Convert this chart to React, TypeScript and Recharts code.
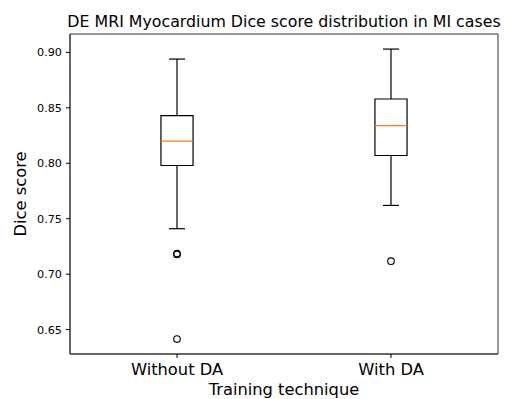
import React from 'react';
import {
  ComposedChart,
  XAxis,
  YAxis,
  Scatter,
  ReferenceArea,
  ReferenceLine,
  Label,
} from 'recharts';

// values
const groups = ['Without DA', 'With DA'];
const positions = [1, 2];
const whiskerLow = [0.741, 0.762];
const q1 = [0.798, 0.807];
const median = [0.82, 0.834];
const q3 = [0.843, 0.858];
const whiskerHigh = [0.894, 0.903];
const outliersWithoutDA = [0.7186, 0.7178, 0.6415];
const outliersWithDA = [0.7117];
const yTicks = [0.65, 0.7, 0.75, 0.8, 0.85, 0.9];

const X_DOMAIN: [number, number] = [0.5, 2.5];
const Y_DOMAIN: [number, number] = [0.628, 0.9166];
const BOX_HALF = 0.075;
const CAP_HALF = 0.0375;

const FONT = '"DejaVu Sans", sans-serif';

if (typeof document !== 'undefined') {
  document.body.style.margin = '0';
}

const outlierData = [
  ...outliersWithoutDA.map(y => ({ x: positions[0], y })),
  ...outliersWithDA.map(y => ({ x: positions[1], y })),
];

const OutlierDot = (props: any) => {
  const { cx, cy } = props;
  if (cx == null || cy == null) return null;
  return <circle cx={cx} cy={cy} r={3.3} fill="none" stroke="#000" strokeWidth={1.1} />;
};

const App: React.FC = () => {
  return (
    <div style={{ position: 'relative', width: 515, height: 399, background: '#fff', fontFamily: FONT }}>
      <svg width={515} height={30} style={{ position: 'absolute', left: 0, top: 0 }}>
        <text x={284} y={27} textAnchor="middle" fontSize={15.8} fontFamily={FONT} fill="#000">
          DE MRI Myocardium Dice score distribution in MI cases
        </text>
      </svg>
      <ComposedChart
        width={515}
        height={399}
        margin={{ top: 34, right: 17, bottom: 0, left: 0 }}
      >
        <XAxis
          type="number"
          dataKey="x"
          domain={X_DOMAIN}
          ticks={positions}
          allowDataOverflow
          tickFormatter={(v: number) => groups[positions.indexOf(v)] ?? ''}
          height={45}
          tickSize={4}
          tickMargin={5}
          axisLine={{ stroke: '#333', strokeWidth: 1 }}
          tickLine={{ stroke: '#000' }}
          tick={{ fill: '#000', fontSize: 16.3, fontFamily: FONT }}
        >
          <Label
            content={(p: any) => {
              const vb = p.viewBox;
              return (
                <text x={vb.x + vb.width / 2} y={vb.y + 41} textAnchor="middle" fontSize={16.3} fontFamily={FONT} fill="#000">
                  Training technique
                </text>
              );
            }}
          />
        </XAxis>
        <YAxis
          type="number"
          dataKey="y"
          domain={Y_DOMAIN}
          ticks={yTicks}
          allowDataOverflow
          width={70}
          tickSize={4}
          tickMargin={4}
          tickFormatter={(v: number) => v.toFixed(2)}
          axisLine={{ stroke: '#333', strokeWidth: 1 }}
          tickLine={{ stroke: '#000' }}
          tick={{ fill: '#000', fontSize: 11.2, fontFamily: FONT }}
        >
          <Label
            content={(p: any) => {
              const vb = p.viewBox;
              const cx = vb.x + 26;
              const cy = vb.y + vb.height / 2;
              return (
                <text x={cx} y={cy} transform={`rotate(-90 ${cx} ${cy})`} textAnchor="middle" fontSize={16.3} fontFamily={FONT} fill="#000">
                  Dice score
                </text>
              );
            }}
          />
        </YAxis>

        {/* axes frame (top & right spines) */}
        <ReferenceArea
          x1={X_DOMAIN[0]}
          x2={X_DOMAIN[1]}
          y1={Y_DOMAIN[0]}
          y2={Y_DOMAIN[1]}
          fill="none"
          fillOpacity={0}
          stroke="#333"
          strokeWidth={1}
          ifOverflow="visible"
        />

        {positions.map((pos, i) => (
          <React.Fragment key={groups[i]}>
            <ReferenceLine
              segment={[{ x: pos, y: q3[i] }, { x: pos, y: whiskerHigh[i] }]}
              stroke="#000"
              strokeWidth={1.2}
            />
            <ReferenceLine
              segment={[{ x: pos, y: whiskerLow[i] }, { x: pos, y: q1[i] }]}
              stroke="#000"
              strokeWidth={1.2}
            />
            <ReferenceLine
              segment={[{ x: pos - CAP_HALF, y: whiskerHigh[i] }, { x: pos + CAP_HALF, y: whiskerHigh[i] }]}
              stroke="#000"
              strokeWidth={1.2}
            />
            <ReferenceLine
              segment={[{ x: pos - CAP_HALF, y: whiskerLow[i] }, { x: pos + CAP_HALF, y: whiskerLow[i] }]}
              stroke="#000"
              strokeWidth={1.2}
            />
            <ReferenceArea
              x1={pos - BOX_HALF}
              x2={pos + BOX_HALF}
              y1={q1[i]}
              y2={q3[i]}
              fill="none"
              fillOpacity={0}
              stroke="#000"
              strokeWidth={1.2}
            />
            <ReferenceLine
              segment={[{ x: pos - BOX_HALF, y: median[i] }, { x: pos + BOX_HALF, y: median[i] }]}
              stroke="#ff7f0e"
              strokeWidth={1.3}
            />
          </React.Fragment>
        ))}

        <Scatter data={outlierData} dataKey="y" shape={<OutlierDot />} isAnimationActive={false} />
      </ComposedChart>
    </div>
  );
};

export default App;
